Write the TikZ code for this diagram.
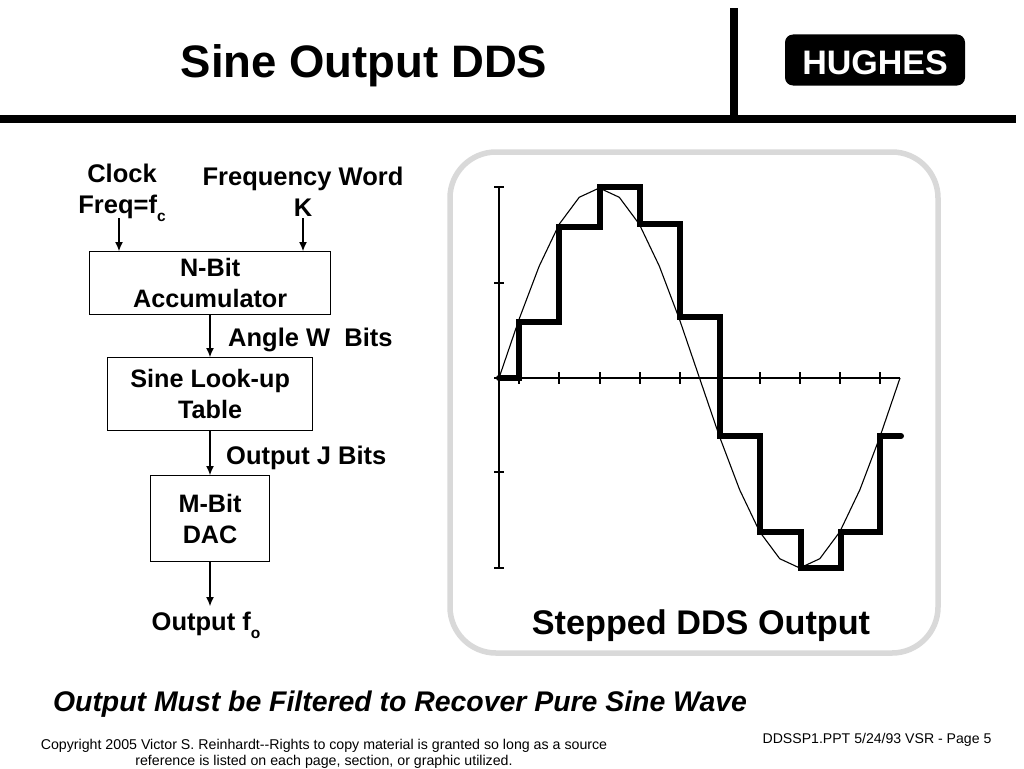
\documentclass[tikz,border=0pt]{standalone}
\usepackage{fontspec}
\setmainfont{Liberation Sans}
\usetikzlibrary{arrows.meta}
\newcommand{\lowsub}[1]{\raisebox{-0.32em}{\fontsize{15.5}{15.5}\selectfont #1}}
\tikzset{
  x=1pt,y=-1pt,
  lbl/.style={font=\fontsize{25.5}{31}\selectfont\bfseries,align=center,inner sep=0pt,text=black},
  blk/.style={draw=black,line width=1.2pt,inner sep=0pt,anchor=north west,align=center,font=\fontsize{25.2}{31}\selectfont\bfseries},
  arr/.style={line width=1.1pt,-{Latex[length=9pt,width=8pt]}},
  thin axis/.style={line width=1.2pt,black},
  stepline/.style={line width=6pt,black,line join=miter,line cap=round},
  sineline/.style={line width=1.1pt,black,line join=round},
}
\begin{document}
\begin{tikzpicture}
\useasboundingbox (0,0) rectangle (1024,768);
\fill[white] (0,0) rectangle (1024,768);
% header
\fill[black] (0,115) rectangle (1016,123);
\fill[black] (730,8) rectangle (738,118);
\node[font=\fontsize{45.5}{50}\selectfont\bfseries,inner sep=0pt] (title) at (364,66) {Sine Output DDS};
\node[fill=black,rounded corners=8pt,minimum width=180pt,minimum height=51pt,inner sep=0pt,text=white,font=\fontsize{34}{38}\selectfont\bfseries] (hughes) at (875,60) {\raisebox{-14pt}[0pt][0pt]{HUGHES}};
% blocks
\node[blk,minimum width=241pt,minimum height=63pt] (acc) at (89,251) {N-Bit\\Accumulator};
\node[blk,minimum width=205pt,minimum height=73pt] (lut) at (107,357) {Sine Look-up\\Table};
\node[blk,minimum width=119pt,minimum height=86pt] (dac) at (150,475) {M-Bit\\DAC};
% labels
\node[lbl] (clock) at (122,193) {Clock\\Freq=f\lowsub{c}};
\node[lbl] (freq) at (303,192) {Frequency Word\\K};
\node[lbl,anchor=west] (angle) at (228,340) {Angle W\hspace{0.28em} Bits};
\node[lbl,anchor=west] (outj) at (226,458) {Output J Bits};
\node[lbl] (outf) at (206,625) {Output f\lowsub{o}};
% connectors
\coordinate (c1) at (119,218);
\coordinate (c2) at (303,218);
\draw[arr] (c1) -- (acc.north -| c1);
\draw[arr] (c2) -- (acc.north -| c2);
\draw[arr] (acc.south -| 210,0) -- (lut.north -| 210,0);
\draw[arr] (lut.south -| 210,0) -- (dac.north -| 210,0);
\coordinate (c3) at (210,606);
\draw[arr] (dac.south -| c3) -- (c3);
% chart frame
\draw[line width=5.5pt,color={rgb,255:red,217;green,217;blue,217},rounded corners=46pt] (450,152) rectangle (938,653);
% axes
\draw[thin axis] (499,187) -- (499,568);
\foreach \yy in {187,283,378,472,568} \draw[thin axis] (494,\yy) -- (504,\yy);
\draw[thin axis] (494,378) -- (900,378);
\foreach \xx in {519,559,600,640,680,720,760,800,840,880} \draw[thin axis] (\xx,372) -- (\xx,384);
% sine polyline
\draw[sineline] (499,378)
 \foreach \k in {1,...,20} { -- ({499+20.05*\k},{378-190*sin(18*\k)}) };
% stepped output
\draw[stepline] (499,378) -- (519,378) -- (519,322) -- (559,322) -- (559,227) -- (600,227) -- (600,187) -- (640,187) -- (640,224) -- (680,224) -- (680,317) -- (720,317) -- (720,436) -- (760,436) -- (760,532) -- (801,532) -- (801,568) -- (841,568) -- (841,532) -- (880,532) -- (880,436) -- (901,436);
\node[font=\fontsize{34.2}{40}\selectfont\bfseries,inner sep=0pt] (stepped) at (701,626) {Stepped DDS Output};
% footer
\node[font=\fontsize{28.4}{32}\selectfont\bfseries\itshape,inner sep=0pt] (must) at (400,704) {Output Must be Filtered to Recover Pure Sine Wave};
\node[font=\fontsize{14.1}{16}\selectfont,inner sep=0pt] (page) at (877,740) {DDSSP1.PPT 5/24/93 VSR - Page 5};
\node[font=\fontsize{14.2}{15.5}\selectfont,align=center,inner sep=0pt] (copy) at (324,754) {Copyright 2005 Victor S. Reinhardt{-}{-}Rights to copy material is granted so long as a source\\reference is listed on each page, section, or graphic utilized.};
\end{tikzpicture}
\end{document}
